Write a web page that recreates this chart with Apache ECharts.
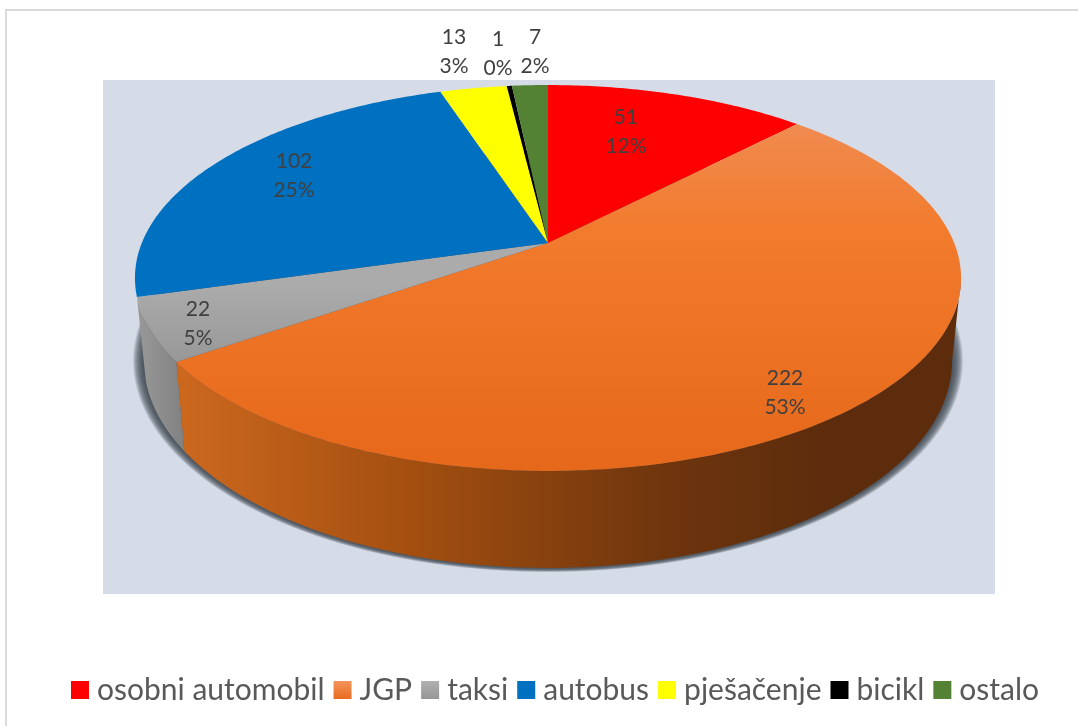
<!DOCTYPE html>
<html><head><meta charset="utf-8">
<style>html,body{margin:0;padding:0;background:#fff}#c{width:1078px;height:726px}</style>
<script src="https://cdn.jsdelivr.net/npm/echarts@6/dist/echarts.min.js"></script>
</head><body><div id="c"></div>
<script>
const categories = ['osobni automobil','JGP','taksi','autobus','pješačenje','bicikl','ostalo'];
const values = [51,222,22,102,13,1,7];
const percents = ['12%','53%','5%','25%','3%','0%','2%'];
const colors = ['#FF0000','#F0782A','#A5A5A5','#0070C0','#FFFF00','#000000','#548235'];
const labelColor = '#404040';
const labelAnchors = [[626,132],[785,393],[198,324],[294,176],[454,52],[498,54],[535,52]];

// projective view of the pie disc
const K = 0.1813, A = 406.2, B = 186.6, CX = 548, APEX_Y = 243;
const TOP = {cy:278, rx:413, ry:193}, BOT = {cy:361, rx:404, ry:207};
const total = values.reduce((a,b)=>a+b,0);
const toRad = f => f*2*Math.PI;
function topPt(t){const u=Math.sin(t),v=Math.cos(t),d=1+K*v;return [CX+A*u/d,APEX_Y-B*v/d];}
function botPt(t){const p=topPt(t);return [CX+BOT.rx*(p[0]-CX)/TOP.rx,BOT.cy+BOT.ry*(p[1]-TOP.cy)/TOP.ry];}
const THETA_R = Math.acos(-K), THETA_L = 2*Math.PI-Math.acos(-K);

const topFill = [
  '#FF0000',
  {type:'linear',global:true,x:0,y:125,x2:0,y2:471,colorStops:[{offset:0,color:'#F08B50'},{offset:.3,color:'#F27B2D'},{offset:1,color:'#E6681A'}]},
  {type:'linear',global:true,x:0,y:285,x2:0,y2:365,colorStops:[{offset:0,color:'#ABABAB'},{offset:1,color:'#979797'}]},
  '#0070C0','#FFFF00','#000000','#548235'];
const wallFill = [null,
  {type:'linear',global:true,x:180,y:0,x2:830,y2:0,colorStops:[{offset:0,color:'#CC681E'},{offset:.35,color:'#A44F10'},{offset:.75,color:'#6E350D'},{offset:1,color:'#5C2C0C'}]},
  {type:'linear',global:true,x:137,y:0,x2:186,y2:0,colorStops:[{offset:0,color:'#999999'},{offset:1,color:'#808080'}]},
  null,null,null,null];
const legendFill = [
  '#FF0000',
  {type:'linear',x:0,y:0,x2:0,y2:1,colorStops:[{offset:0,color:'#F4935C'},{offset:1,color:'#EA6C1E'}]},
  {type:'linear',x:0,y:0,x2:0,y2:1,colorStops:[{offset:0,color:'#B0B0B0'},{offset:1,color:'#969696'}]},
  '#0070C0','#FFFF00','#000000','#548235'];

function renderSlice(i){
  let start=0; for(let k=0;k<i;k++) start+=values[k]/total;
  const t0=toRad(start), t1=toRad(start+values[i]/total);
  return function(){
    const children=[];
    const a=Math.max(t0,THETA_R), b=Math.min(t1,THETA_L);
    if(wallFill[i] && b>a){
      const upper=[],lower=[];
      for(let s=0;s<=80;s++){const t=a+(b-a)*s/80;upper.push(topPt(t));lower.push(botPt(t));}
      children.push({type:'polygon',shape:{points:upper.concat(lower.reverse())},style:{fill:wallFill[i]},z2:1});
    }
    const pts=[[CX,APEX_Y]];
    const n=Math.max(4,Math.ceil((t1-t0)*80));
    for(let s=0;s<=n;s++) pts.push(topPt(t0+(t1-t0)*s/n));
    children.push({type:'polygon',shape:{points:pts},style:{fill:topFill[i]},z2:2});
    const la=labelAnchors[i];
    children.push({type:'text',x:la[0],y:la[1],z2:5,style:{text:values[i]+'\n'+percents[i],fill:labelColor,align:'center',verticalAlign:'middle',font:'21px Lato, sans-serif',lineHeight:29}});
    return {type:'group',children};
  };
}
// soft contact shadow under the wall: stacked translucent ellipses
function renderShadow(){
  const children=[];
  const RINGS=18;
  for(let r=RINGS;r>=1;r--){
    const f=r/RINGS, rx=BOT.rx+11*f, ry=BOT.ry+4*f, pts=[];
    for(let s=0;s<=180;s++){const t=s/180*Math.PI*2;pts.push([CX+rx*Math.cos(t),BOT.cy+ry*Math.sin(t)]);}
    children.push({type:'polygon',shape:{points:pts},style:{fill:'rgba(62,70,80,0.11)'}});
  }
  return {type:'group',children};
}
const series=[{type:'custom',name:'__shadow',coordinateSystem:'none',silent:true,z:1,data:[0],renderItem:renderShadow}];
categories.forEach((c,i)=>series.push({type:'custom',name:c,coordinateSystem:'none',z:2,data:[values[i]],renderItem:renderSlice(i),itemStyle:{color:colors[i]}}));

const chart=echarts.init(document.getElementById('c'),null,{renderer:'canvas'});
chart.setOption({
  animation:false,
  backgroundColor:'#fff',
  graphic:{elements:[
    {type:'rect',z:-10,silent:true,shape:{x:103,y:80,width:892,height:514},style:{fill:'#D5DCE7'}},
    {type:'rect',z:-10,silent:true,shape:{x:5,y:9,width:1073,height:2},style:{fill:'#DADADA'}},
    {type:'rect',z:-10,silent:true,shape:{x:5,y:9,width:2,height:717},style:{fill:'#DADADA'}}
  ]},
  legend:{
    data:categories.map((c,i)=>({name:c,itemStyle:{color:legendFill[i]}})),
    left:66,top:670,itemWidth:18,itemHeight:18,itemGap:9,
    selectedMode:false,
    textStyle:{color:'#595959',fontFamily:'Lato, sans-serif',fontSize:30,padding:[0,0,0,3]},
    icon:'rect'
  },
  series
});
</script></body></html>
